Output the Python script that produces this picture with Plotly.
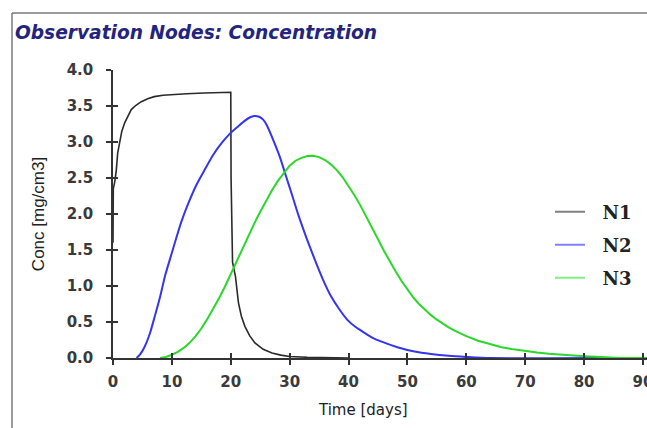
import plotly.graph_objects as go

# ---- data ----
n1_t = [0, 0, 0.05, 0.3, 0.55, 0.8, 1.15, 1.5, 2.0, 2.5, 3.1, 3.9, 4.8, 5.9, 7.0, 8.5, 10.0, 12.5, 15.5, 18.0, 20.0,
        20.05, 20.3, 20.8, 21.3, 21.8, 22.4, 23.2, 24.1, 25.5, 27.0, 28.5, 30.0, 33.0, 36.0, 40.0]
n1_c = [1.6, 2.33, 2.35, 2.45, 2.6, 2.85, 3.03, 3.15, 3.27, 3.36, 3.45, 3.51, 3.56, 3.6, 3.63, 3.65, 3.66, 3.67, 3.68, 3.69, 3.69,
        2.5, 1.33, 1.13, 0.77, 0.58, 0.44, 0.31, 0.21, 0.12, 0.07, 0.04, 0.02, 0.01, 0.005, 0.0]

n2_t = [4.0, 4.6, 5.4, 6.3, 7.1, 8.0, 8.8, 9.7, 10.5, 11.6, 12.8, 14.2, 15.6, 17.0, 18.5, 19.9, 21.3, 22.3, 23.2, 24.0, 24.8,
        25.5, 26.2, 27.2, 28.3, 29.4, 30.5, 31.5, 32.8, 34.2, 35.6, 37.0, 38.4, 39.8, 41.2, 42.7, 44.1, 45.5, 48.3,
        51.2, 54.0, 57.0, 60.0, 64.0, 83.0]
n2_c = [0.0, 0.05, 0.16, 0.35, 0.58, 0.85, 1.13, 1.38, 1.6, 1.89, 2.15, 2.41, 2.62, 2.82, 2.99, 3.12, 3.22, 3.29, 3.34, 3.36, 3.35,
        3.31, 3.22, 3.03, 2.8, 2.52, 2.24, 1.98, 1.68, 1.38, 1.1, 0.86, 0.68, 0.53, 0.43, 0.35, 0.28, 0.23, 0.15,
        0.09, 0.055, 0.03, 0.015, 0.0, 0.0]

n3_t = [8, 9, 10, 11, 12, 13, 14, 15, 16, 17, 18, 19, 20, 21, 22, 23, 24, 25, 26, 27, 28, 29, 30, 31, 32, 33, 34,
        35, 36, 37, 38, 39, 40, 41, 42, 43, 44, 45, 46, 47, 48, 49, 50, 51, 52, 53, 54, 55, 56, 57, 58, 59, 60,
        62, 64, 66, 68, 70, 72, 74, 76, 78, 80, 82, 84, 86, 91]
n3_c = [0.0, 0.015, 0.045, 0.085, 0.14, 0.21, 0.30, 0.41, 0.54, 0.68, 0.83, 0.99, 1.17, 1.35, 1.53, 1.70, 1.87, 2.03,
        2.19, 2.33, 2.46, 2.57, 2.67, 2.74, 2.78, 2.805, 2.81, 2.79, 2.75, 2.69, 2.61, 2.51, 2.39, 2.26, 2.12, 1.97,
        1.81, 1.65, 1.49, 1.34, 1.20, 1.07, 0.95, 0.84, 0.745, 0.665, 0.595, 0.532, 0.476, 0.426, 0.381, 0.34, 0.303,
        0.24, 0.19, 0.15, 0.12, 0.095, 0.075, 0.058, 0.045, 0.034, 0.025, 0.017, 0.008, 0.0, 0.0]

names = ["N1", "N2", "N3"]
colors = ["#2a2a2a", "#3535ee", "#2ad82a"]
legend_colors = ["#808080", "#8080ff", "#80f080"]
widths = [1.6, 2.0, 2.0]
shapes = ["linear", "spline", "linear"]

x_ticks = [0, 10, 20, 30, 40, 50, 60, 70, 80, 90]
y_ticks = [0.0, 0.5, 1.0, 1.5, 2.0, 2.5, 3.0, 3.5, 4.0]

# ---- layout geometry (pixels) ----
W, H = 647, 428
ML, MR, MT, MB = 113, 0, 70, 70
PW, PH = W - ML - MR, H - MT - MB
X_MAX = 90 * PW / (643 - ML)   # axis line runs to the window edge, tick 90 sits at 643 px


def px_x(p):
    return (p - ML) / PW


def px_y(p):
    return (H - MB - p) / PH


fig = go.Figure()
series = [(n1_t, n1_c), (n2_t, n2_c), (n3_t, n3_c)]
legend_ids = ["legend", "legend2", "legend3"]
for (t, c), name, col, w, shp in zip(series, names, colors, widths, shapes):
    fig.add_trace(go.Scatter(x=t, y=c, mode="lines", name=name, showlegend=False,
                             line=dict(color=col, width=w, shape=shp, smoothing=0.6)))
for name, col, lg in zip(names, legend_colors, legend_ids):
    fig.add_trace(go.Scatter(x=[None], y=[None], mode="lines", name="\u00a0\u00a0" + name, legend=lg,
                             line=dict(color=col, width=2)))
# overlay axes for the inner half of the crossing tick marks
fig.add_trace(go.Scatter(x=[], y=[], xaxis="x2", yaxis="y2", showlegend=False))

tickfont = dict(family="DejaVu Sans", size=15, color="#3a3a3a", weight="bold")
fig.update_layout(
    width=W, height=H,
    margin=dict(l=ML, r=MR, t=MT, b=MB, autoexpand=False),
    paper_bgcolor="white", plot_bgcolor="white",
    xaxis=dict(range=[0, X_MAX], tickvals=x_ticks, ticktext=[str(v) for v in x_ticks],
               ticks="outside", ticklen=5, tickwidth=1.5, tickcolor="#333",
               showline=True, linecolor="#333", linewidth=1.5, showgrid=False, zeroline=False,
               tickfont=tickfont, ticklabelstandoff=4, ticklabeloverflow="allow"),
    yaxis=dict(range=[0, 4], tickvals=y_ticks, ticktext=[f"{v:.1f}" for v in y_ticks],
               ticks="outside", ticklen=5, tickwidth=1.5, tickcolor="#333",
               showline=True, linecolor="#333", linewidth=1.5, showgrid=False, zeroline=False,
               tickfont=tickfont, ticklabelstandoff=10,
               title=dict(text="Conc [mg/cm3]", font=dict(family="Liberation Sans", size=17, color="#222"), standoff=18)),
    xaxis2=dict(overlaying="x", anchor="y", range=[0, X_MAX], tickvals=x_ticks, ticks="inside", ticklen=5,
                tickwidth=1.5, tickcolor="#333", showticklabels=False, showgrid=False, zeroline=False, showline=False),
    yaxis2=dict(overlaying="y", anchor="x", side="left", range=[0, 4], tickvals=y_ticks, ticks="inside", ticklen=5,
                tickwidth=1.5, tickcolor="#333", showticklabels=False, showgrid=False, zeroline=False, showline=False),
    title=dict(text="<b><i>Observation Nodes: Concentration</i></b>", x=15 / W, xanchor="left",
               y=1 - 32 / H, yanchor="middle", xref="container", yref="container",
               font=dict(family="DejaVu Sans", size=18.6, color="#24247e")),
    showlegend=True,
)
fig.add_annotation(text="Time [days]", xref="paper", yref="paper", x=px_x(363), y=px_y(410),
                   xanchor="center", yanchor="middle", showarrow=False,
                   font=dict(family="DejaVu Sans", size=15, color="#222"))
leg_y = [212, 245, 278]
for lg, yy in zip(legend_ids, leg_y):
    fig.update_layout({lg: dict(x=px_x(550), y=px_y(yy), xanchor="left", yanchor="middle",
                                bgcolor="rgba(0,0,0,0)", itemwidth=30, itemclick=False, itemdoubleclick=False,
                                font=dict(family="DejaVu Serif", size=18, color="#222", weight="bold"))})

# outer frame of the panel
fig.add_shape(type="line", xref="paper", yref="paper", x0=px_x(12), x1=px_x(660), y0=px_y(13), y1=px_y(13),
              line=dict(color="#7a7a7a", width=1.5))
fig.add_shape(type="line", xref="paper", yref="paper", x0=px_x(12), x1=px_x(12), y0=px_y(13), y1=px_y(440),
              line=dict(color="#7a7a7a", width=1.5))

fig.write_html("out.html", config={"displayModeBar": False},
               post_script="document.body.style.margin='0';")
